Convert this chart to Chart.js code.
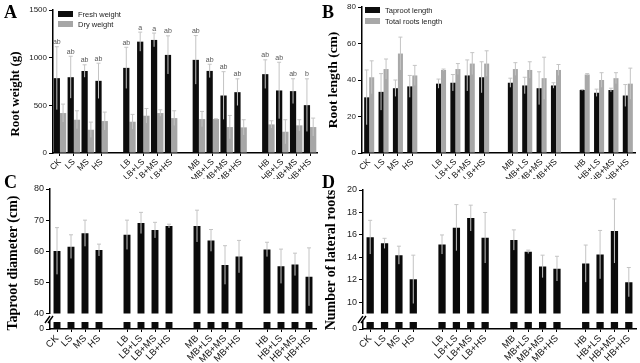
<!DOCTYPE html>
<html>
<head>
<meta charset="utf-8">
<script src="https://cdn.jsdelivr.net/npm/chart.js@4.4.0/dist/chart.umd.min.js"></script>
<style>
body{margin:0;background:#fff;width:640px;height:363px;position:relative;overflow:hidden}
canvas{position:absolute}
.lt{position:absolute;font:bold 18px "Liberation Serif";line-height:18px;color:#000}
.yt{position:absolute;font-family:"Liberation Serif";font-weight:bold;white-space:nowrap;color:#000;transform:translate(-50%,-50%) rotate(-90deg)}
</style>
</head>
<body>
<canvas id="cC" style="left:0;top:180px" width="320" height="141"></canvas>
<canvas id="cC0" style="left:0;top:310px" width="320" height="53"></canvas>
<canvas id="cD" style="left:320px;top:180px" width="320" height="141"></canvas>
<canvas id="cD0" style="left:320px;top:310px" width="320" height="53"></canvas>
<canvas id="cA" style="left:0;top:0" width="320" height="196"></canvas>
<canvas id="cB" style="left:320px;top:0" width="320" height="196"></canvas>

<div class="lt" style="left:4px;top:3px">A</div>
<div class="lt" style="left:322px;top:3px">B</div>
<div class="lt" style="left:4px;top:173px">C</div>
<div class="lt" style="left:322px;top:173px">D</div>
<div class="yt" style="left:15px;top:94px;font-size:13px">Root weight (g)</div>
<div class="yt" style="left:333px;top:80px;font-size:13.5px">Root length (cm)</div>
<div class="yt" style="left:13px;top:263px;font-size:14px">Taproot diameter (cm)</div>
<div class="yt" style="left:331px;top:260px;font-size:14px">Number of lateral roots</div>

<script>
// treatment groups, a blank slot goes between groups
var groups = [
  ['CK','LS','MS','HS'],
  ['LB','LB+LS','LB+MS','LB+HS'],
  ['MB','MB+LS','MB+MS','MB+HS'],
  ['HB','HB+LS','HB+MS','HB+HS']
];

// A - root weight (g)
var freshWeight = [785,795,860,757, 893,1168,1186,1029, 977,861,603,638, 827,656,649,502];
var freshErr    = [330,220,65,185, 216,100,72,200, 255,70,250,140, 150,296,130,276];
var freshLetters = ['ab','ab','ab','ab','ab','a','a','ab','ab','ab','ab','ab','ab','ab','ab','b'];
var dryWeight = [419,349,244,335, 328,391,419,366, 356,356,272,269, 300,223,290,272];
var dryErr    = [94,94,80,94, 77,76,34,77, 80,3,122,80, 38,126,59,94];

// B - root length (cm)
var taprootLength = [30.5,33.5,35.5,36.5, 38,38.5,42.5,41.5, 38.5,37,35.5,37, 34.5,33,34.5,31.5];
var taprootErr    = [15,10,4.5,6, 2.5,4.5,8.5,8.5, 2.5,4.5,9,1.5, 0.3,2,1,6];
var totalLength = [41.5,46,54.5,42.5, 45.5,46,49,49, 46,45.5,41,45.5, 43,40,41,38];
var totalErr    = [9,5.5,9,5.5, 0.5,3,6,7, 3.5,4.5,11.5,3, 0.5,4,3,8.5];

// C - taproot diameter
var diameter    = [60.1,61.5,65.8,60.4, 65.3,69.1,66.8,68.1, 68.1,63.5,55.6,58.3, 60.6,55.2,55.8,51.8];
var diameterErr = [7.5,3.8,4.2,1.9, 4.7,3.4,2.5,0.6, 5.1,3.5,6.2,5.2, 2.3,5.5,3.6,9.3];

// D - number of lateral roots
var lateral    = [15.8,15.25,14.2,12.05, 15.15,16.65,17.5,15.75, 15.55,14.5,13.2,13.0, 13.45,14.25,16.35,11.8];
var lateralErr = [1.5,0.45,0.8,2.15, 0.85,2.05,1.15,2.25, 0.9,0.15,1.0,1.1, 1.65,2.15,2.85,1.3];

var yTicksA = [0,500,1000,1500];
var yTicksB = [0,20,40,60,80];
var yTicksC = [40,50,60,70,80];
var yTicksD = [10,12,14,16,18,20];
var yTicksStub = [0,1];

var categories = [];
groups.forEach(function(g,i){ if(i>0) categories.push(''); categories = categories.concat(g); });

function gapped(arr){
  var out = [];
  arr.forEach(function(v,i){ if(i>0 && i%4===0) out.push(null); out.push(v); });
  return out;
}

var errorBars = {
  id:'errorBars',
  afterDatasetsDraw: function(chart){
    var ctx = chart.ctx, ys = chart.scales.y, area = chart.chartArea;
    ctx.save();
    ctx.beginPath();
    ctx.rect(area.left, area.top-20, area.right-area.left, area.bottom-area.top+20);
    ctx.clip();
    chart.data.datasets.forEach(function(ds,di){
      if(!ds.errors) return;
      var meta = chart.getDatasetMeta(di);
      meta.data.forEach(function(bar,i){
        var v = ds.data[i], e = ds.errors[i];
        if(v==null || e==null) return;
        var yt = ys.getPixelForValue(v+e), yb = ys.getPixelForValue(v-e);
        ctx.strokeStyle = '#c4c4c4';
        ctx.lineWidth = 1;
        ctx.beginPath();
        ctx.moveTo(bar.x, yb); ctx.lineTo(bar.x, yt);
        ctx.moveTo(bar.x-2, yt); ctx.lineTo(bar.x+2, yt);
        ctx.stroke();
        if(ds.letters){
          ctx.fillStyle = '#555';
          ctx.font = '7px "Liberation Sans"';
          ctx.textAlign = 'center';
          ctx.textBaseline = 'bottom';
          ctx.fillText(ds.letters[i], bar.x, yt-1);
        }
      });
    });
    ctx.restore();
  }
};

var boxLegend = {
  id:'boxLegend',
  afterDraw: function(chart, args, opts){
    if(!opts || opts.x==null) return;
    var ctx = chart.ctx;
    ctx.save();
    chart.data.datasets.forEach(function(ds,i){
      var y = opts.y + i*opts.row;
      ctx.fillStyle = ds.backgroundColor;
      ctx.fillRect(opts.x, y, 15, 6);
      ctx.fillStyle = '#222';
      ctx.font = '7.5px "Liberation Sans"';
      ctx.textAlign = 'left';
      ctx.textBaseline = 'middle';
      ctx.fillText(ds.label, opts.x+20, y+3.5);
    });
    ctx.restore();
  }
};

var axisBreak = {
  id:'axisBreak',
  afterDraw: function(chart, args, opts){
    if(!opts || !opts.on) return;
    var ctx = chart.ctx, x = chart.chartArea.left, t = chart.chartArea.top;
    ctx.save();
    ctx.strokeStyle = '#000';
    ctx.lineWidth = 1.4;
    ctx.beginPath();
    ctx.moveTo(x-5, t+1); ctx.lineTo(x, t-6);
    ctx.moveTo(x-2, t+1); ctx.lineTo(x+3, t-6);
    ctx.stroke();
    ctx.restore();
  }
};

function makeChart(id, o){
  return new Chart(document.getElementById(id).getContext('2d'), {
    type:'bar',
    data:{ labels:categories, datasets:o.datasets },
    options:{
      responsive:false,
      animation:false,
      events:[],
      layout:{ padding:o.pad },
      datasets:{ bar:{ categoryPercentage:o.cat, barPercentage:o.bar } },
      plugins:{
        legend:{ display:false },
        tooltip:{ enabled:false },
        boxLegend:o.legend || {},
        axisBreak:{ on:!!o.brk }
      },
      scales:{
        x:{
          display:o.showX,
          offset:true,
          grid:{ offset:false, drawOnChartArea:false, drawTicks:true, tickLength:3, lineWidth:1,
                 color:function(c){ return (c.tick && c.tick.label) ? '#000' : 'rgba(0,0,0,0)'; } },
          border:{ color:'#000', width:1.5 },
          ticks:{ autoSkip:false, maxRotation:45, minRotation:45, padding:1, color:'#111',
                  font:{ family:'Liberation Sans', size:o.xFont || 8.5 } },
          afterFit:function(s){ s.height = o.xH || 0; }
        },
        y:{
          min:o.min, max:o.max,
          afterBuildTicks:function(s){ s.ticks = o.ticks.map(function(v){ return {value:v}; }); },
          grid:{ drawOnChartArea:false, drawTicks:true, tickLength:4, color:'#000', lineWidth:1 },
          border:{ color:'#000', width:1.5 },
          ticks:{ padding:2, color:'#222', font:{ family:'Liberation Sans', size:o.yFont || 8 },
                  callback:function(v){ return String(v); } },
          afterFit:function(s){ s.width = o.yW; }
        }
      }
    },
    plugins:[errorBars, boxLegend, axisBreak]
  });
}

makeChart('cA', {
  datasets:[
    { label:'Fresh weight', data:gapped(freshWeight), errors:gapped(freshErr), letters:gapped(freshLetters), backgroundColor:'#0d0d0d' },
    { label:'Dry weight', data:gapped(dryWeight), errors:gapped(dryErr), backgroundColor:'#a6a6a6' }
  ],
  min:0, max:1500, ticks:yTicksA, showX:true, xH:26, yW:53,
  pad:{ left:0, top:10, right:3, bottom:17 }, cat:0.9, bar:1.0,
  legend:{ x:58, y:11, row:10 }
});

makeChart('cB', {
  datasets:[
    { label:'Taproot length', data:gapped(taprootLength), errors:gapped(taprootErr), backgroundColor:'#0d0d0d' },
    { label:'Total roots length', data:gapped(totalLength), errors:gapped(totalErr), backgroundColor:'#a8a8a8' }
  ],
  min:0, max:80, ticks:yTicksB, showX:true, xH:26, yW:42,
  pad:{ left:0, top:7, right:5, bottom:17 }, cat:0.7, bar:1.0,
  legend:{ x:45, y:7, row:11 }
});

makeChart('cC', {
  datasets:[ { label:'Taproot diameter', data:gapped(diameter), errors:gapped(diameterErr), backgroundColor:'#0a0a0a' } ],
  min:40, max:80, ticks:yTicksC, showX:false, yW:50, yFont:9,
  pad:{ left:0, top:9, right:4, bottom:5 }, cat:0.55, bar:0.9
});
makeChart('cC0', {
  datasets:[ { label:'Taproot diameter', data:gapped(diameter), backgroundColor:'#0a0a0a' } ],
  min:0, max:1, ticks:yTicksStub, showX:true, xH:33, yW:50, xFont:9.5, yFont:8.5,
  pad:{ left:0, top:12, right:4, bottom:1 }, cat:0.55, bar:0.9, brk:true
});

makeChart('cD', {
  datasets:[ { label:'Lateral roots', data:gapped(lateral), errors:gapped(lateralErr), backgroundColor:'#0a0a0a' } ],
  min:9, max:20, ticks:yTicksD, showX:false, yW:43, yFont:9,
  pad:{ left:0, top:10, right:4, bottom:5 }, cat:0.55, bar:0.92
});
makeChart('cD0', {
  datasets:[ { label:'Lateral roots', data:gapped(lateral), backgroundColor:'#0a0a0a' } ],
  min:0, max:1, ticks:yTicksStub, showX:true, xH:33, yW:43, xFont:9.5, yFont:8.5,
  pad:{ left:0, top:12, right:4, bottom:1 }, cat:0.55, bar:0.92, brk:true
});
</script>
</body>
</html>
